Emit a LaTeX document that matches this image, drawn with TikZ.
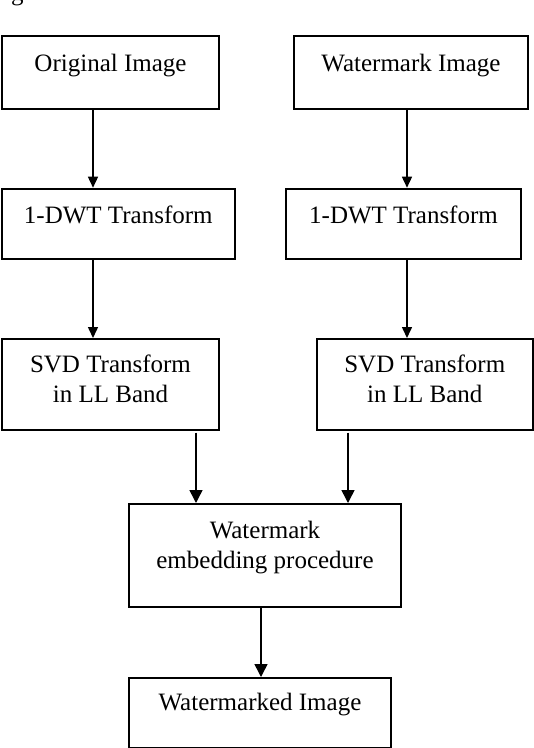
\documentclass[tikz,border=0pt]{standalone}
\usepackage{fontspec}
\setmainfont{Liberation Serif}
\usetikzlibrary{arrows.meta}
\tikzset{
  >={Triangle[length=11pt, width=10pt]},
  every picture/.style={line join=miter},
  stage/.style={draw, line width=2pt, anchor=north west, inner xsep=0pt, inner ysep=0pt,
                align=center, font=\fontsize{25}{30}\selectfont},
  flow/.style={->, line width=1.5pt},
  bigflow/.style={flow, >={Triangle[length=13pt, width=13pt]}},
}
\begin{document}
\begin{tikzpicture}[x=1pt, y=-1pt]
  \useasboundingbox (0,0) rectangle (534,748);
  % cut caption
  \node[anchor=base west, inner sep=0pt, font=\fontsize{25}{30}\selectfont] (capg) at (11,0.5) {g};
  % left column
  \node[stage, minimum width=217pt, text height=35pt, text depth=37.5pt] (orig) at (1,35) {Original Image};
  \node[stage, minimum width=232.6pt, text height=35pt, text depth=35.3pt] (dwtl) at (1,187.7) {1-DWT Transform};
  \node[stage, minimum width=217pt, text height=63.4pt, text depth=27.1pt] (svdl) at (1,338) {SVD Transform\\in LL Band};
  % right column
  \node[stage, minimum width=234pt, text height=35pt, text depth=37.5pt] (wm) at (293,35) {Watermark Image};
  \node[stage, minimum width=235pt, text height=35pt, text depth=35.3pt] (dwtr) at (285,187.7) {1-DWT Transform};
  \node[stage, minimum width=216.5pt, text height=63.4pt, text depth=27.1pt] (svdr) at (315.5,338) {SVD Transform\\in LL Band};
  % bottom
  \node[stage, minimum width=272pt, text height=64pt, text depth=39pt] (emb) at (128,503) {Watermark\\embedding procedure};
  \node[stage, minimum width=262pt, text height=32pt, text depth=38pt] (wmd) at (128,677) {Watermarked Image};
  % arrows
  \draw[flow] ([xshift=-17.5pt]orig.south) -- ([xshift=-17.5pt]orig.south |- dwtl.north);
  \draw[flow] ([xshift=-4pt]wm.south) -- ([xshift=-4pt]wm.south |- dwtr.north);
  \draw[flow] ([xshift=-25.3pt]dwtl.south) -- ([xshift=-25.3pt]dwtl.south |- svdl.north);
  \draw[flow] ([xshift=3.5pt]dwtr.south) -- ([xshift=3.5pt]dwtr.south |- svdr.north);
  \draw[bigflow] ([xshift=85.5pt, yshift=-2pt]svdl.south) -- ([xshift=85.5pt]svdl.south |- emb.north);
  \draw[bigflow] ([xshift=-76.75pt, yshift=-2pt]svdr.south) -- ([xshift=-76.75pt]svdr.south |- emb.north);
  \draw[bigflow] ([xshift=-4pt]emb.south) -- ([xshift=-4pt]emb.south |- wmd.north);
\end{tikzpicture}
\end{document}
